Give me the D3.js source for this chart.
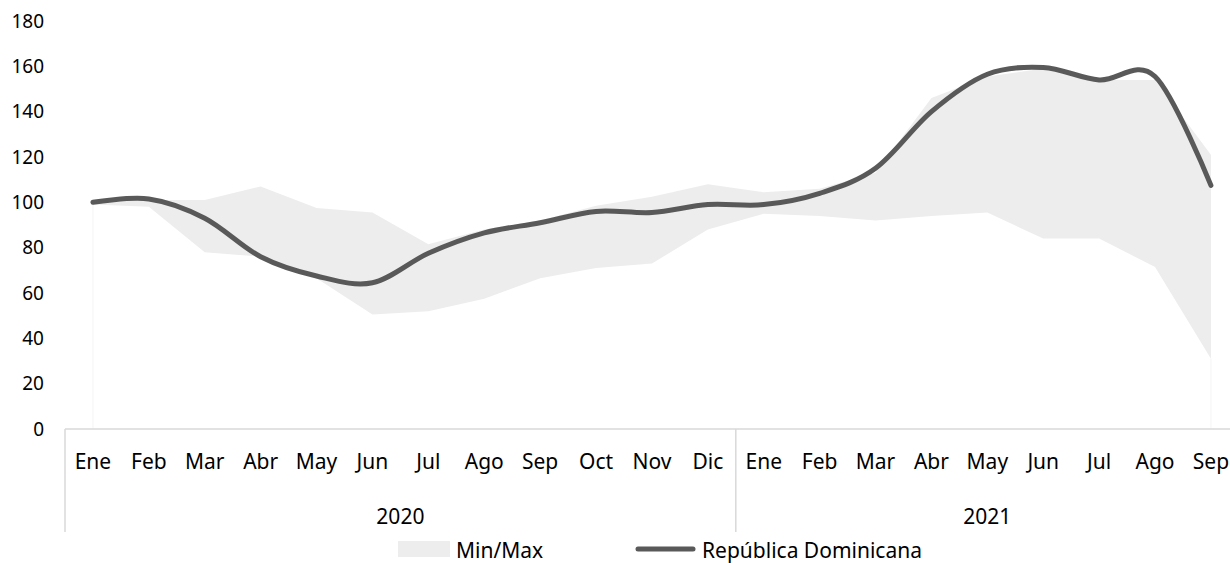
<!DOCTYPE html>
<html lang="es">
<head>
<meta charset="UTF-8">
<title>República Dominicana Min/Max</title>
<script src="https://d3js.org/d3.v7.min.js"></script>
<style>
  body { margin: 0; background: #fff; }
  svg text { font-family: "Noto Sans", "Open Sans", sans-serif; fill: #000; }
</style>
</head>
<body>
<div id="chart"></div>
<script>
// months for the two years shown
const months2020 = ["Ene","Feb","Mar","Abr","May","Jun","Jul","Ago","Sep","Oct","Nov","Dic"]
const months2021 = ["Ene","Feb","Mar","Abr","May","Jun","Jul","Ago","Sep"]
const years = ["2020", "2021"]
const yTicks = [0,20,40,60,80,100,120,140,160,180]

// República Dominicana index
const rdValues = [100,101.5,93,76,67.5,64.5,77.5,86.5,91,96,95.5,99,
                  99,104,115,140,156.5,159.5,154,155.5,107.5]
// regional min / max band
const maxValues = [100,101,101,107,97.5,95.5,81.5,88,92,98.5,102.5,108,
                   104.5,106,113,146,155.5,159,154,154,121]
const minValues = [99,98,78,76,66.5,50.5,52,57.5,66.5,71,73,88,
                   95,94,92,94,95.5,84,84,71.5,31]

const width = 1230
const height = 563

const cats = months2020.map((m,i) => "2020-" + i).concat(months2021.map((m,i) => "2021-" + i))
const labels = months2020.concat(months2021)

const data = cats.map((c,i) => ({key:c, label:labels[i], rd:rdValues[i], min:minValues[i], max:maxValues[i]}))

const x = d3.scaleBand().domain(cats).range([65, 65 + 21*55.9]).padding(0)
const y = d3.scaleLinear().domain([0,180]).range([429, 21])
const cx = d => x(d.key) + x.bandwidth()/2

const svg = d3.select("#chart").append("svg")
    .attr("width", width)
    .attr("height", height)

// faint edges left by the stacked base of the band
svg.selectAll("line.edge")
    .data([data[0], data[data.length-1]])
    .join("line")
    .attr("class", "edge")
    .attr("x1", cx).attr("x2", cx)
    .attr("y1", d => y(d.min)).attr("y2", y(0))
    .attr("stroke", "#f4f4f4")
    .attr("stroke-width", 1)

// min/max band
const area = d3.area()
    .x(cx)
    .y0(d => y(d.min))
    .y1(d => y(d.max))
svg.append("path")
    .datum(data)
    .attr("d", area)
    .attr("fill", "#ededed")

// y axis labels only
const yAxis = d3.axisLeft(y).tickValues(yTicks).tickSize(0).tickPadding(0)
svg.append("g")
    .attr("transform", "translate(44,0)")
    .call(yAxis)
    .call(g => g.select(".domain").remove())
    .selectAll("text")
    .style("font-size", "19px")

// x axis line and group dividers
svg.append("line")
    .attr("x1", 65).attr("x2", width)
    .attr("y1", y(0)).attr("y2", y(0))
    .attr("stroke", "#d9d9d9").attr("stroke-width", 1.5)

const groupEdges = [x(cats[0]), x(cats[12])]
svg.selectAll("line.divider")
    .data(groupEdges)
    .join("line")
    .attr("class", "divider")
    .attr("x1", d => d).attr("x2", d => d)
    .attr("y1", y(0)).attr("y2", 532)
    .attr("stroke", "#d9d9d9").attr("stroke-width", 1.5)

svg.selectAll("text.month")
    .data(data)
    .join("text")
    .attr("class", "month")
    .attr("x", cx)
    .attr("y", 469)
    .attr("text-anchor", "middle")
    .style("font-size", "21px")
    .text(d => d.label)

const groupRanges = [[x(cats[0]), x(cats[12])], [x(cats[12]), x(cats[20]) + x.bandwidth()]]
svg.selectAll("text.year")
    .data(years)
    .join("text")
    .attr("class", "year")
    .attr("x", (d,i) => (groupRanges[i][0] + groupRanges[i][1]) / 2)
    .attr("y", 524)
    .attr("text-anchor", "middle")
    .style("font-size", "21px")
    .text(d => d)

// República Dominicana line
const line = d3.line()
    .x(cx)
    .y(d => y(d.rd))
    .curve(d3.curveCardinal.tension(0))
svg.append("path")
    .datum(data)
    .attr("d", line)
    .attr("fill", "none")
    .attr("stroke", "#595959")
    .attr("stroke-width", 5)
    .attr("stroke-linecap", "round")

// legend
const legend = svg.append("g")
legend.append("rect")
    .attr("x", 398).attr("y", 541)
    .attr("width", 52).attr("height", 16)
    .attr("fill", "#ededed")
legend.append("text")
    .attr("x", 456).attr("y", 558)
    .style("font-size", "21px")
    .text("Min/Max")
legend.append("line")
    .attr("x1", 638).attr("x2", 693)
    .attr("y1", 549).attr("y2", 549)
    .attr("stroke", "#595959")
    .attr("stroke-width", 5)
    .attr("stroke-linecap", "round")
legend.append("text")
    .attr("x", 702).attr("y", 558)
    .style("font-size", "21px")
    .text("República Dominicana")
</script>
</body>
</html>
